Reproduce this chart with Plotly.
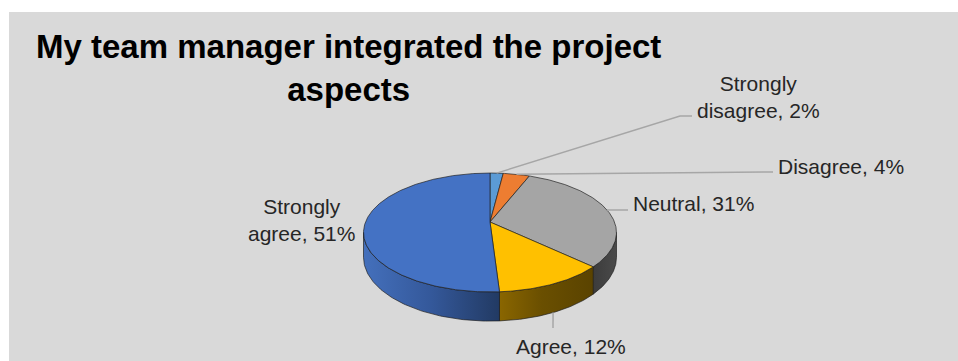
import numpy as np
import plotly.graph_objects as go

# ---- data -------------------------------------------------------------
categories = ["Strongly disagree", "Disagree", "Neutral", "Agree", "Strongly agree"]
shares = [2, 4, 31, 12, 51]
top_colors = ["#5B9BD5", "#ED7D31", "#A5A5A5", "#FFC000", "#4472C4"]
side_colors = [
    [[0, "#3f74a6"], [1, "#2f5a82"]],
    [[0, "#b85e22"], [1, "#8c4718"]],
    [[0, "#3c3c3c"], [1, "#4a4a4a"]],
    [[0, "#8a6600"], [0.45, "#6a4f00"], [1, "#5a4300"]],
    [[0, "#4470bc"], [0.5, "#34589a"], [1, "#223a63"]],
]
title_text = "My team manager integrated the project<br>aspects"

# ---- canvas / pie geometry (pixel space of the figure) ----------------
W, H = 958, 361
CX, CY = 490.0, 222.0      # pie apex on the top face
RX, RY = 124.5, 57.6       # half-axes of the tilted disc
PERSP = 0.1765             # front-to-back perspective factor
DEPTH = 24.0               # thickness of the disc


def project(theta_deg, drop=0.0):
    """Angle measured clockwise from the back of the pie -> screen x, y."""
    t = np.radians(theta_deg)
    u = np.sin(t)
    v = -np.cos(t)
    s = 1.0 / (1.0 - PERSP * v)
    return CX + RX * u * s, CY + RY * v * s + drop * s


total = float(sum(shares))
bounds = np.concatenate([[0.0], np.cumsum(shares) / total * 360.0])
mids = (bounds[:-1] + bounds[1:]) / 2.0

# visible part of the outer wall lies between the two silhouette angles
vis0 = np.degrees(np.arccos(-PERSP))
vis1 = 360.0 - vis0

fig = go.Figure()
edge = dict(color="rgba(30,30,30,0.85)", width=0.8)

# outer walls
for i in range(len(shares)):
    a, b = max(bounds[i], vis0), min(bounds[i + 1], vis1)
    if b <= a:
        continue
    th = np.linspace(a, b, 80)
    xt, yt = project(th)
    xb, yb = project(th[::-1], DEPTH)
    xs = np.concatenate([xt, xb, xt[:1]])
    ys = np.concatenate([yt, yb, yt[:1]])
    fig.add_trace(go.Scatter(
        x=xs, y=ys, mode="lines", fill="toself",
        fillgradient=dict(type="horizontal", colorscale=side_colors[i]),
        line=edge, hoverinfo="skip"))

# top faces
for i, (cat, val) in enumerate(zip(categories, shares)):
    th = np.linspace(bounds[i], bounds[i + 1], max(8, int(val * 6)))
    xa, ya = project(th)
    xs = np.concatenate([[CX], xa, [CX]])
    ys = np.concatenate([[CY], ya, [CY]])
    fig.add_trace(go.Scatter(
        x=xs, y=ys, mode="lines", fill="toself", fillcolor=top_colors[i],
        line=edge, name=cat, hoverinfo="name"))

# ---- data labels ------------------------------------------------------
def label_text(cat, val):
    words = cat.split(" ")
    if len(words) > 1:
        return f"{words[0]}<br>{' '.join(words[1:])}, {val}%"
    return f"{cat}, {val}%"


# label placement: (x, y, xanchor, leader-line elbow points)
label_pos = [
    (758, 97, "center", [(680, 116), (692, 116)]),
    (776, 166, "left", [(773, 172)]),
    (631, 203, "left", [(628, 210)]),
    (571, 346, "center", [(553, 328)]),
    (301, 220, "center", None),
]

lead = dict(color="#a6a6a6", width=1.5)
for i, (cat, val) in enumerate(zip(categories, shares)):
    lx, ly, anchor, elbow = label_pos[i]
    if elbow is not None:
        t = mids[i]
        drop = DEPTH if vis0 < t < vis1 and i == 3 else 0.0
        ax, ay = project(t, drop)
        px = [ax] + [p[0] for p in elbow]
        py = [ay] + [p[1] for p in elbow]
        fig.add_trace(go.Scatter(x=px, y=py, mode="lines", line=lead,
                                 hoverinfo="skip"))
    fig.add_annotation(
        x=lx, y=ly, xref="x", yref="y", text=label_text(cat, val),
        showarrow=False, xanchor=anchor, yanchor="middle", align="center",
        font=dict(family="Liberation Sans", size=21, color="#262626"))

# ---- title ------------------------------------------------------------
fig.add_annotation(
    x=348, y=68, xref="x", yref="y", text=f"<b>{title_text}</b>",
    showarrow=False, xanchor="center", yanchor="middle", align="center",
    font=dict(family="Liberation Sans", size=33, color="#000000"))

# chart area background
fig.add_shape(type="rect", xref="x", yref="y", x0=9, y0=12, x1=W, y1=H,
              fillcolor="#d9d9d9", line=dict(width=0), layer="below")

fig.update_layout(
    width=W, height=H, margin=dict(l=0, r=0, t=0, b=0),
    paper_bgcolor="white", plot_bgcolor="white", showlegend=False,
    xaxis=dict(range=[0, W], visible=False, fixedrange=True),
    yaxis=dict(range=[H, 0], visible=False, fixedrange=True),
)

fig.write_html("out.html")
